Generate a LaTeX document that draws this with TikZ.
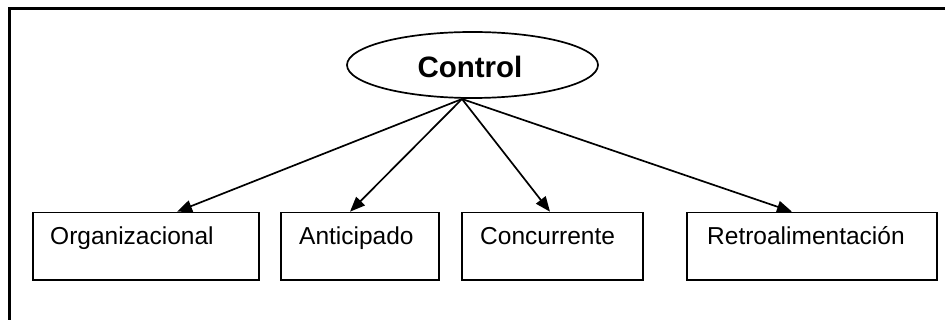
\documentclass[tikz,border=0pt]{standalone}
\usepackage{fontspec}
\setmainfont{Liberation Sans}
\usetikzlibrary{arrows.meta,calc,shapes.geometric}
\tikzset{
  boxstyle/.style={draw, line width=1.8pt, rectangle, anchor=north west, inner sep=0pt},
  lbl/.style={anchor=base west, inner sep=0pt, font=\fontsize{24.5}{29}\selectfont},
  conn/.style={line width=1.7pt, -{Triangle[length=15pt,width=12pt]}},
  frameline/.style={line width=2.5pt}
}
\begin{document}
\begin{tikzpicture}[x=1pt,y=-1pt]
\useasboundingbox (0,0) rectangle (945,320);
% frame
\coordinate (fl) at (9.5,320);
\coordinate (ftl) at (9.5,8.5);
\coordinate (ftr) at (945,8.5);
\draw[frameline] (fl) -- (ftl) -- (ftr);
% top ellipse
\node[draw, ellipse, line width=1.7pt, minimum width=251pt, minimum height=66pt, inner sep=0pt] (ctl) at (472.5,65) {};
\node[anchor=base, inner sep=0pt, font=\fontsize{29.5}{34}\selectfont\bfseries] (ctltext) at (470,78) {Control};
\coordinate (apex) at (462,99);
% boxes
\node[boxstyle, minimum width=226pt, minimum height=67.5pt] (b1) at (32,211.7) {};
\node[boxstyle, minimum width=158pt, minimum height=67.5pt] (b2) at (280,211.7) {};
\node[boxstyle, minimum width=181pt, minimum height=67.5pt] (b3) at (461,211.7) {};
\node[boxstyle, minimum width=250pt, minimum height=67.5pt] (b4) at (686,211.7) {};
% labels
\node[lbl] (t1) at (50,245) {Organizacional};
\node[lbl] (t2) at (299,245) {Anticipado};
\node[lbl] (t3) at (480,245) {Concurrente};
\node[lbl] (t4) at (707,245) {Retroalimentación};
% arrow targets on box tops
\coordinate (e1) at ($(b1.north west)+(145,0)$);
\coordinate (e2) at ($(b2.north west)+(70,0)$);
\coordinate (e3) at ($(b3.north west)+(89,0)$);
\coordinate (e4) at ($(b4.north west)+(106,0)$);
\draw[conn] (apex) -- (e1);
\draw[conn] (apex) -- (e2);
\draw[conn] (apex) -- (e3);
\draw[conn] (apex) -- (e4);
\end{tikzpicture}
\end{document}
